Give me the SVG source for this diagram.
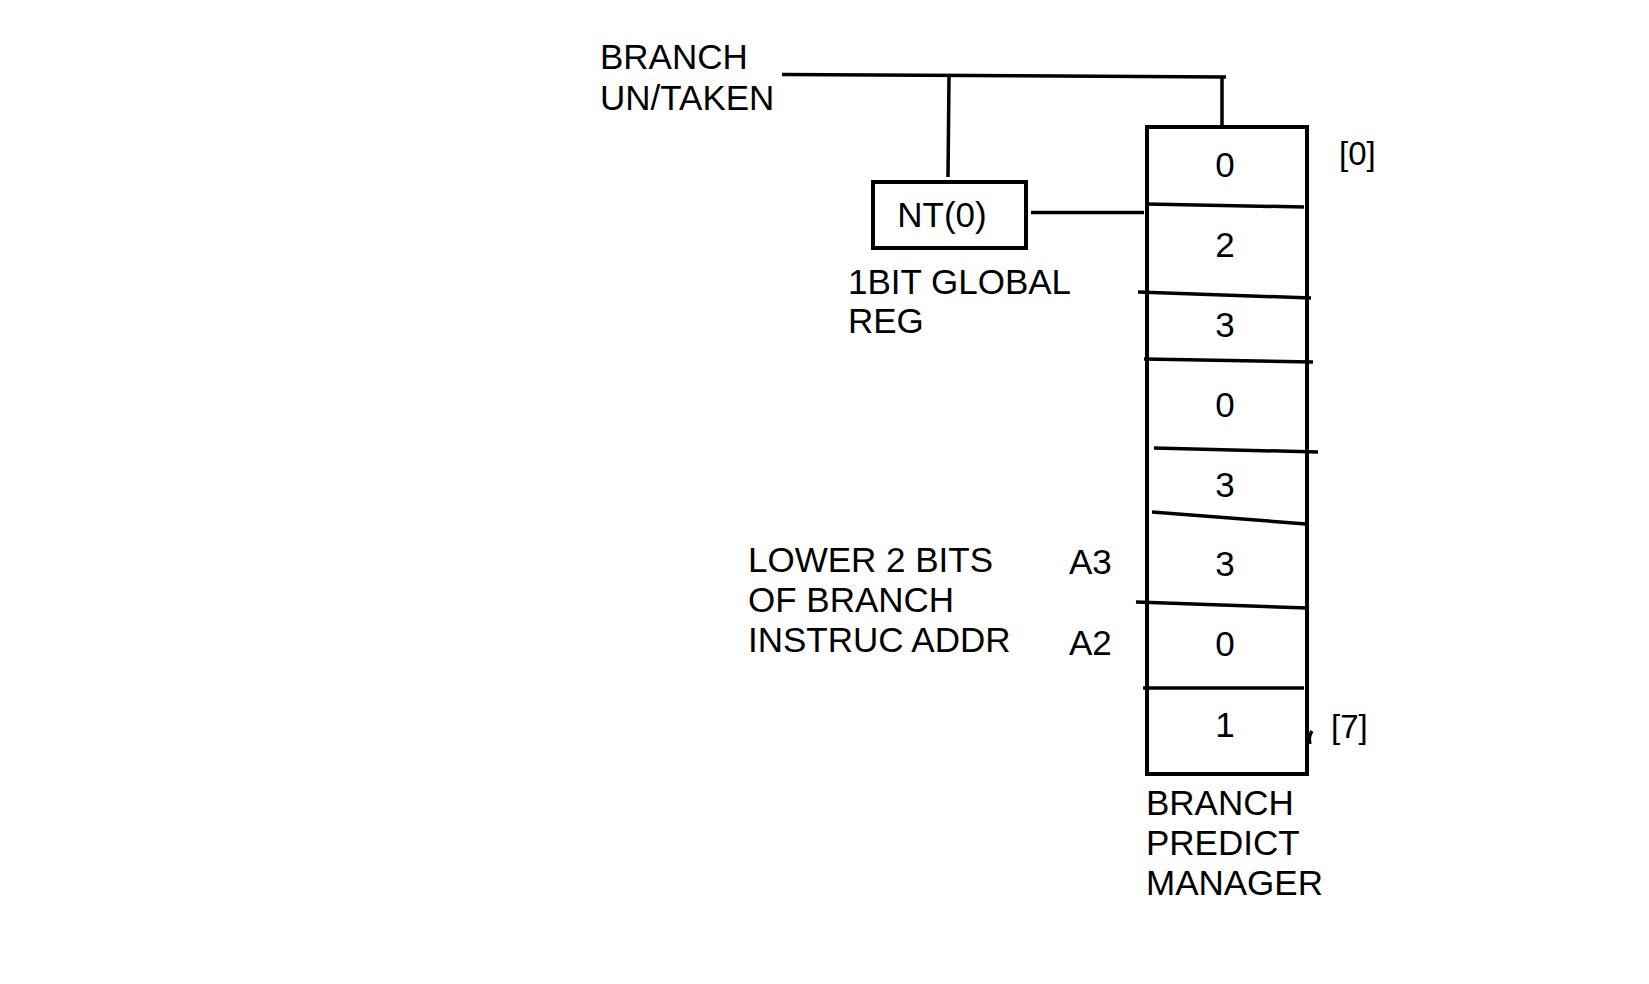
<svg xmlns="http://www.w3.org/2000/svg" width="1649" height="984" viewBox="0 0 1649 984">
<style>
text{font-family:"Liberation Sans",Arial,sans-serif;font-size:35px;fill:#000}
.num{text-anchor:middle}
.idx{font-size:33px}
.ln{stroke:#000;stroke-width:3.5;fill:none;stroke-linecap:butt}
.box{stroke:#000;stroke-width:4;fill:#fff}
</style>
<rect width="1649" height="984" fill="#fff"/>
<g id="connectors">
<path class="ln" d="M782,74.5 L1226,77"/>
<path class="ln" d="M949,76 L948,177"/>
<path class="ln" d="M1222,77 L1222,127"/>
<path class="ln" d="M1031,212.5 L1144,212.5"/>
</g>
<g id="label-branch-untaken">
<text x="600" y="69">BRANCH</text>
<text x="600" y="110">UN/TAKEN</text>
</g>
<g id="global-reg">
<rect class="box" x="873" y="182" width="153" height="66"/>
<text class="num" x="942" y="227">NT(0)</text>
<text x="848" y="294">1BIT GLOBAL</text>
<text x="848" y="333">REG</text>
</g>
<g id="branch-predict-manager">
<rect class="box" x="1147" y="127" width="160" height="647"/>
<path class="ln" d="M1146,204 L1304,207"/>
<path class="ln" d="M1138,292 L1311,298"/>
<path class="ln" d="M1144,359 L1313,362"/>
<path class="ln" d="M1154,448 L1318,452"/>
<path class="ln" d="M1152,512 L1306,524"/>
<path class="ln" d="M1136,602 L1307,608"/>
<path class="ln" d="M1143,688 L1304,688"/>
<path class="ln" d="M1312,731 Q1308,737 1310,744" stroke-width="2"/>
<text class="num" x="1225" y="177">0</text>
<text class="num" x="1225" y="257">2</text>
<text class="num" x="1225" y="337">3</text>
<text class="num" x="1225" y="417">0</text>
<text class="num" x="1225" y="497">3</text>
<text class="num" x="1225" y="576">3</text>
<text class="num" x="1225" y="656">0</text>
<text class="num" x="1225" y="737">1</text>
<text class="idx" x="1339" y="165">[0]</text>
<text class="idx" x="1331" y="738">[7]</text>
<text x="1146" y="815">BRANCH</text>
<text x="1146" y="855">PREDICT</text>
<text x="1146" y="895">MANAGER</text>
</g>
<g id="address-bits">
<text x="748" y="572">LOWER 2 BITS</text>
<text x="748" y="612">OF BRANCH</text>
<text x="748" y="652">INSTRUC ADDR</text>
<text x="1069" y="574">A3</text>
<text x="1069" y="655">A2</text>
</g>
</svg>
